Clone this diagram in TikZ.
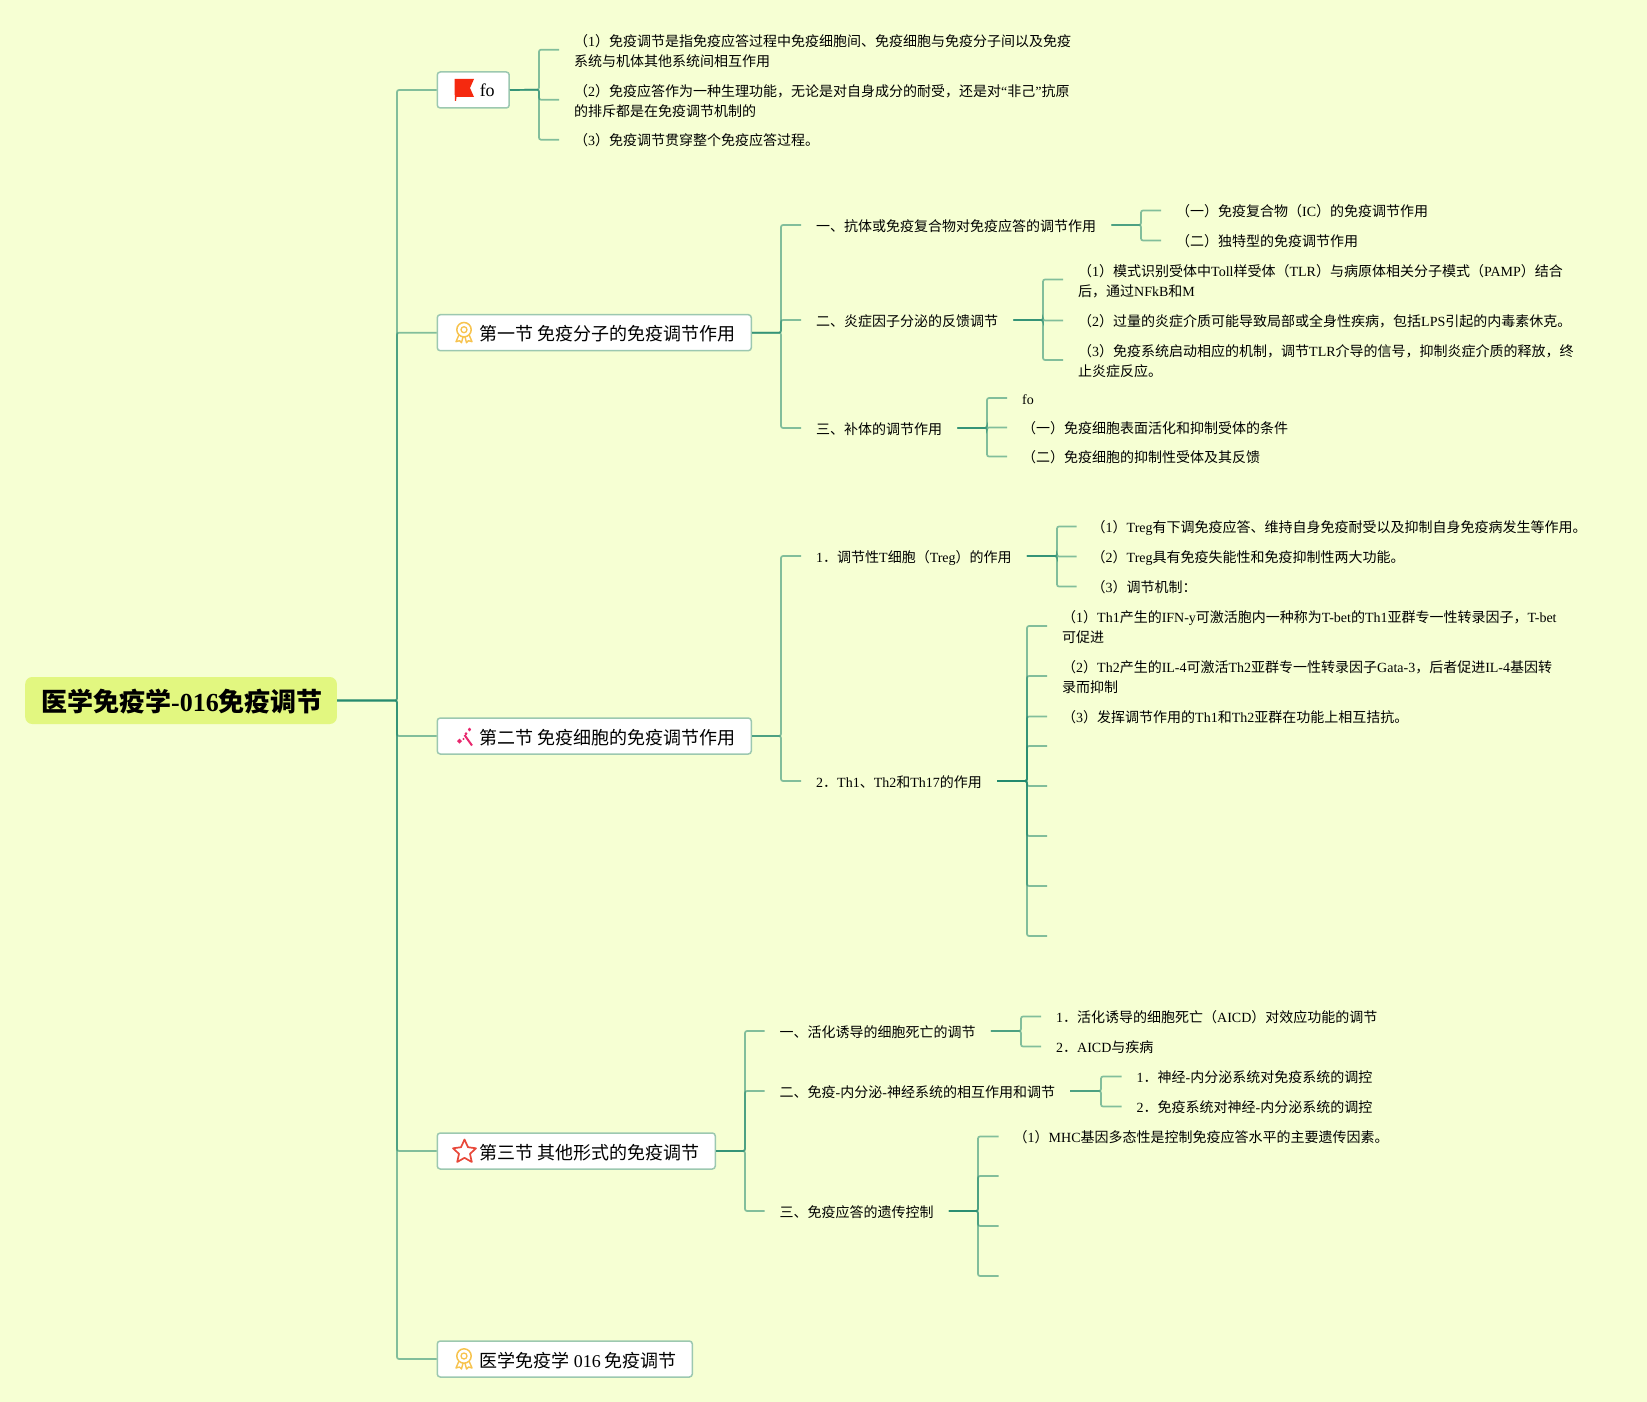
\documentclass[tikz,border=0pt]{standalone}
\usepackage{fontspec}
\setmainfont{Noto Sans CJK SC}
\newfontfamily\latf{Liberation Serif}
\newcommand{\lat}[1]{{\latf #1}}
\newcommand{\tp}{\rule{0pt}{14.5pt}}
\definecolor{bgc}{HTML}{F6FFD3}
\definecolor{linec}{HTML}{238A6E}
\definecolor{boxb}{HTML}{9CC8B0}
\definecolor{rootc}{HTML}{E2F780}
\definecolor{medalc}{HTML}{F7C34E}
\definecolor{flagc}{HTML}{F5290F}
\definecolor{pinkc}{HTML}{E8286E}
\definecolor{starc}{HTML}{E8483A}
\tikzset{
  x=1pt,y=-1pt,
  conn/.style={draw=linec,draw opacity=.55,line width=1.7pt,rounded corners=2pt},
  stext/.style={anchor=west,inner xsep=15pt,inner ysep=0pt,text height=14.5pt,text depth=2.5pt,text=black,font=\fontsize{14}{20}\selectfont},
  mtext/.style={anchor=west,inner xsep=15pt,inner ysep=0pt,align=left,text=black,font=\fontsize{14}{20}\selectfont},
  secbox/.style={anchor=west,draw=boxb,fill=white,line width=1.5pt,rounded corners=3pt,minimum height=36pt,inner xsep=15.5pt,inner ysep=0pt,text height=18.5pt,text depth=2pt,text=black,font=\fontsize{18}{22}\selectfont},
  rootbox/.style={anchor=west,fill=rootc,rounded corners=7pt,minimum height=47pt,inner xsep=16pt,inner ysep=0pt,text height=25pt,text depth=3pt,text=black,font=\fontsize{26}{30}\selectfont\bfseries},
  medal/.pic={
    \draw[medalc,line width=1.5pt] (0,-2) circle (7.2);
    \draw[medalc,line width=1.3pt] (0,-2) circle (3);
    \draw[medalc,line width=1.4pt,line join=round] (-5,3) -- (-8,10) -- (-4.5,9) -- (-2.5,11) -- (-1,5.2);
    \draw[medalc,line width=1.4pt,line join=round] (5,3) -- (8,10) -- (4.5,9) -- (2.5,11) -- (1,5.2);
  },
}
\begin{document}
\begin{tikzpicture}
\useasboundingbox (0,0) rectangle (1647,1402);
\fill[bgc] (0,0) rectangle (1647,1402);
% root and sections
\node[rootbox] (root) at (25,700.5) {医学免疫学\lat{-016}免疫调节\hspace*{-2pt}};
\node[secbox] (s0) at (436.5,90) {\hspace{27pt}\raisebox{2pt}{\lat{fo}}\hspace*{-1pt}};
\node[secbox] (s1) at (436.5,332.7) {\hspace{27pt}第一节 免疫分子的免疫调节作用};
\node[secbox] (s2) at (436.5,736) {\hspace{27pt}第二节 免疫细胞的免疫调节作用};
\node[secbox] (s3) at (436.5,1151) {\hspace{27pt}第三节 其他形式的免疫调节};
\node[secbox] (s4) at (436.5,1359) {\hspace{27pt}医学免疫学 \lat{016} 免疫调节};
\coordinate (b0) at (397,700.5);
\foreach \s in {s0,s1,s2,s3,s4} \draw[conn] (root.east) -- (b0) |- (\s.west);
% icons
\fill[flagc] (454.6,79) -- (474,79) -- (470,88) -- (474,97) -- (456.5,97) -- (456,101) -- (454.8,101) -- cycle;
\pic at (464,331.7) {medal};
\pic at (464,1358) {medal};
\draw[pinkc,line width=2pt] (464.5,735) -- (472,745.5);
\fill[pinkc] (459.5,738.5) -- (462,741) -- (459.5,743.5) -- (457,741) -- cycle;
\fill[pinkc] (466,732) -- (467.5,733.7) -- (466,735.4) -- (464.5,733.7) -- cycle;
\fill[pinkc] (469.5,727.5) -- (471.2,729.5) -- (469.5,731.5) -- (467.8,729.5) -- cycle;
\fill[pinkc] (463.5,739) circle (1.1);
\draw[starc,line width=1.7pt,line join=round]
  (464.5,1139.5) -- (468,1147.2) -- (476,1148.3) -- (470,1153.8) -- (471.8,1162) -- (464.5,1157.8) -- (457.2,1162) -- (459,1153.8) -- (453,1148.3) -- (461,1147.2) -- cycle;
% fo branch
\node[mtext] (a1) at (559,49.7) {\tp（\lat{1}）免疫调节是指免疫应答过程中免疫细胞间、免疫细胞与免疫分子间以及免疫\\系统与机体其他系统间相互作用};
\node[mtext] (a2) at (559,99.7) {\tp（\lat{2}）免疫应答作为一种生理功能，无论是对自身成分的耐受，还是对\lat{“}非己\lat{”}抗原\\的排斥都是在免疫调节机制的};
\node[stext] (a3) at (559,139.7) {（\lat{3}）免疫调节贯穿整个免疫应答过程。};
\coordinate (ba) at (539,89.7);
\foreach \c in {a1,a2,a3} \draw[conn] (s0.east) -- (ba) |- (\c.west);
% section 1
\coordinate (bs1) at (781,332.7);
\node[stext] (t1) at (801,225) {一、抗体或免疫复合物对免疫应答的调节作用};
\node[stext] (t2) at (801,320) {二、炎症因子分泌的反馈调节};
\node[stext] (t3) at (801,428) {三、补体的调节作用};
\foreach \c in {t1,t2,t3} \draw[conn] (s1.east) -- (bs1) |- (\c.west);
\coordinate (bt1) at (1141,225);
\node[stext] (t11) at (1161,210.5) {（一）免疫复合物（\lat{IC}）的免疫调节作用};
\node[stext] (t12) at (1161,240.5) {（二）独特型的免疫调节作用};
\foreach \c in {t11,t12} \draw[conn] (t1.east) -- (bt1) |- (\c.west);
\coordinate (bt2) at (1043,320);
\node[mtext] (t21) at (1063,279.5) {\tp（\lat{1}）模式识别受体中\lat{Toll}样受体（\lat{TLR}）与病原体相关分子模式（\lat{PAMP}）结合\\后，通过\lat{NFkB}和\lat{M}};
\node[stext] (t22) at (1063,320.5) {（\lat{2}）过量的炎症介质可能导致局部或全身性疾病，包括\lat{LPS}引起的内毒素休克。};
\node[mtext] (t23) at (1063,360) {\tp（\lat{3}）免疫系统启动相应的机制，调节\lat{TLR}介导的信号，抑制炎症介质的释放，终\\止炎症反应。};
\foreach \c in {t21,t22,t23} \draw[conn] (t2.east) -- (bt2) |- (\c.west);
\coordinate (bt3) at (987,428);
\node[stext] (t31) at (1007,398) {\lat{fo}};
\node[stext] (t32) at (1007,427.5) {（一）免疫细胞表面活化和抑制受体的条件};
\node[stext] (t33) at (1007,456.5) {（二）免疫细胞的抑制性受体及其反馈};
\foreach \c in {t31,t32,t33} \draw[conn] (t3.east) -- (bt3) |- (\c.west);
% section 2
\coordinate (bs2) at (781,736);
\node[stext] (u1) at (801,556) {\lat{1}．调节性\lat{T}细胞（\lat{Treg}）的作用};
\node[stext] (u2) at (801,781) {\lat{2}．\lat{Th1}、\lat{Th2}和\lat{Th17}的作用};
\foreach \c in {u1,u2} \draw[conn] (s2.east) -- (bs2) |- (\c.west);
\coordinate (bu1) at (1057,556);
\node[stext] (u11) at (1076.5,526.5) {（\lat{1}）\lat{Treg}有下调免疫应答、维持自身免疫耐受以及抑制自身免疫病发生等作用。};
\node[stext] (u12) at (1076.5,556.5) {（\lat{2}）\lat{Treg}具有免疫失能性和免疫抑制性两大功能。};
\node[stext] (u13) at (1076.5,586.5) {（\lat{3}）调节机制：};
\foreach \c in {u11,u12,u13} \draw[conn] (u1.east) -- (bu1) |- (\c.west);
\coordinate (bu2) at (1027,781);
\node[mtext] (u21) at (1047,626) {\tp（\lat{1}）\lat{Th1}产生的\lat{IFN-y}可激活胞内一种称为\lat{T-bet}的\lat{Th1}亚群专一性转录因子，\lat{T-bet}\\可促进};
\node[mtext] (u22) at (1047,676) {\tp（\lat{2}）\lat{Th2}产生的\lat{IL-4}可激活\lat{Th2}亚群专一性转录因子\lat{Gata-3}，后者促进\lat{IL-4}基因转\\录而抑制};
\node[stext] (u23) at (1047,716.5) {（\lat{3}）发挥调节作用的\lat{Th1}和\lat{Th2}亚群在功能上相互拮抗。};
\coordinate (u24) at (1047,746);
\coordinate (u25) at (1047,786);
\coordinate (u26) at (1047,836);
\coordinate (u27) at (1047,886);
\coordinate (u28) at (1047,936);
\foreach \c in {u21,u22,u23} \draw[conn] (u2.east) -- (bu2) |- (\c.west);
\foreach \c in {u24,u25,u26,u27,u28} \draw[conn] (u2.east) -- (bu2) |- (\c);
% section 3
\coordinate (bs3) at (745,1151);
\node[stext] (v1) at (764.5,1031) {一、活化诱导的细胞死亡的调节};
\node[stext] (v2) at (764.5,1091) {二、免疫\lat{-}内分泌\lat{-}神经系统的相互作用和调节};
\node[stext] (v3) at (764.5,1211) {三、免疫应答的遗传控制};
\foreach \c in {v1,v2,v3} \draw[conn] (s3.east) -- (bs3) |- (\c.west);
\coordinate (bv1) at (1021,1031);
\node[stext] (v11) at (1041,1016.5) {\lat{1}．活化诱导的细胞死亡（\lat{AICD}）对效应功能的调节};
\node[stext] (v12) at (1041,1046.5) {\lat{2}．\lat{AICD}与疾病};
\foreach \c in {v11,v12} \draw[conn] (v1.east) -- (bv1) |- (\c.west);
\coordinate (bv2) at (1101,1091);
\node[stext] (v21) at (1121.5,1076.5) {\lat{1}．神经\lat{-}内分泌系统对免疫系统的调控};
\node[stext] (v22) at (1121.5,1106.5) {\lat{2}．免疫系统对神经\lat{-}内分泌系统的调控};
\foreach \c in {v21,v22} \draw[conn] (v2.east) -- (bv2) |- (\c.west);
\coordinate (bv3) at (978,1211);
\node[stext] (v31) at (998.5,1136.5) {（\lat{1}）\lat{MHC}基因多态性是控制免疫应答水平的主要遗传因素。};
\coordinate (v32) at (998.5,1176);
\coordinate (v33) at (998.5,1226);
\coordinate (v34) at (998.5,1276);
\draw[conn] (v3.east) -- (bv3) |- (v31.west);
\foreach \c in {v32,v33,v34} \draw[conn] (v3.east) -- (bv3) |- (\c);
\end{tikzpicture}
\end{document}
